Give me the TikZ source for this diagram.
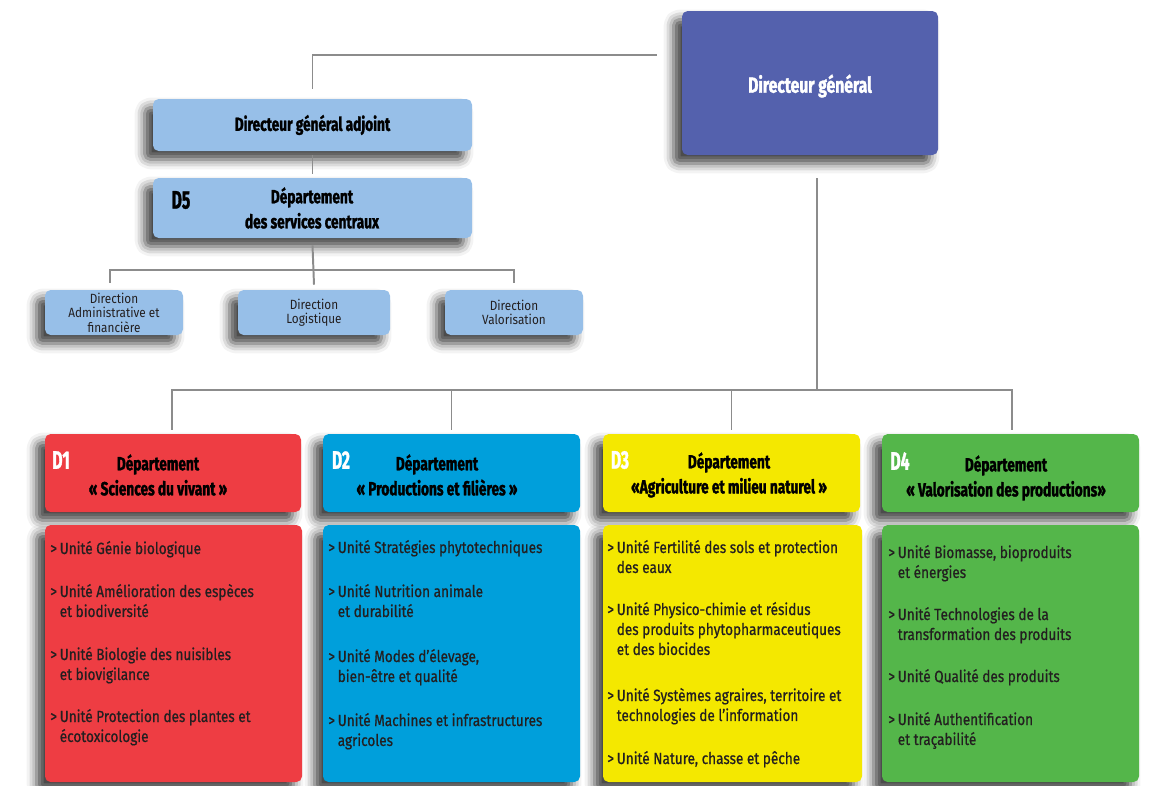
\documentclass[tikz,border=0pt]{standalone}
\usepackage{fontspec}
\setmainfont{Fira Sans}
\newfontfamily\headfont[FakeStretch=0.72,FakeBold=1.6]{Fira Sans}
\newfontfamily\labelfont[FakeStretch=0.62,FakeBold=1.2]{Fira Sans}
\newfontfamily\unitfont[FakeStretch=0.84,FakeBold=0.7]{Fira Sans}
\newfontfamily\dirfont[FakeStretch=0.88]{Fira Sans}
\usetikzlibrary{positioning,calc,shadows.blur}
\definecolor{dgblue}{HTML}{5461AD}
\definecolor{lightblue}{HTML}{97BFE8}
\definecolor{dred}{HTML}{EE3D43}
\definecolor{dblue}{HTML}{009FDB}
\definecolor{dyellow}{HTML}{F4E800}
\definecolor{dgreen}{HTML}{54B64A}
\definecolor{linegrey}{HTML}{8C8C8C}
\definecolor{inktext}{HTML}{231F20}
\def\pxu{0.025cm}
\newcommand{\uitem}[1]{\begin{tabular}[t]{@{}l@{\,}l@{}}>&#1\end{tabular}}
\tikzset{
  box/.style={rectangle,rounded corners=4pt,inner sep=0pt,
    blur shadow={shadow xshift=-6pt,shadow yshift=-6pt,shadow blur radius=7pt,shadow opacity=75}},
  headtxt/.style={font=\headfont\bfseries\fontsize{13.5}{17.8}\selectfont,align=center,text=black},
  dlabel/.style={font=\labelfont\bfseries\fontsize{18}{18}\selectfont,text=white},
  dirtxt/.style={font=\dirfont\fontsize{9.5}{10.3}\selectfont,align=center,text=inktext},
  unit/.style={font=\unitfont\fontsize{11.5}{14.2}\selectfont,anchor=base west,inner sep=0pt,text=inktext},
  link/.style={draw=linegrey,line width=1.4pt},
}
\begin{document}
\begin{tikzpicture}[x=\pxu,y=-\pxu]
  \useasboundingbox (0,0) rectangle (1168,785);
  % direction
  \node[box,fill=dgblue,minimum width=256*\pxu,minimum height=144*\pxu] (dg) at (810,83) {};
  \node[headtxt,text=white,font=\headfont\bfseries\fontsize{15.5}{18}\selectfont] at (810,86) {Directeur général};
  \node[box,fill=lightblue,minimum width=319*\pxu,minimum height=52*\pxu] (dga) at (312.5,125) {};
  \node[headtxt] at (dga.center) {Directeur général adjoint};
  \node[box,fill=lightblue,minimum width=319*\pxu,minimum height=60*\pxu] (d5) at (312.5,208) {};
  \node[headtxt] at (312,208) {Département\\des services centraux};
  \node[dlabel,text=black] at (181,200) {D5};
  % directions of D5
  \node[box,fill=lightblue,minimum width=138*\pxu,minimum height=45*\pxu] (dadm) at (114,312.5) {};
  \node[dirtxt] at (dadm.center) {Direction\\Administrative et\\financière};
  \node[box,fill=lightblue,minimum width=152*\pxu,minimum height=45*\pxu] (dlog) at (314,312.5) {};
  \node[dirtxt] at (dlog.center) {Direction\\Logistique};
  \node[box,fill=lightblue,minimum width=138*\pxu,minimum height=45*\pxu] (dval) at (514,312.5) {};
  \node[dirtxt] at (dval.center) {Direction\\Valorisation};
  % department headers
  \node[box,fill=dred,minimum width=256*\pxu,minimum height=78*\pxu] (h1) at (173,473) {};
  \node[box,fill=dblue,minimum width=257*\pxu,minimum height=78*\pxu] (h2) at (451.5,473) {};
  \node[box,fill=dyellow,minimum width=257*\pxu,minimum height=78*\pxu] (h3) at (731.5,473) {};
  \node[box,fill=dgreen,minimum width=257*\pxu,minimum height=78*\pxu] (h4) at (1010.5,473) {};
  \node[headtxt] at (158,475) {Département\\« Sciences du vivant »};
  \node[headtxt] at (437,475) {Département\\« Productions et filières »};
  \node[headtxt] at (729,475) {Département\\«Agriculture et milieu naturel »};
  \node[headtxt] at (1006,478) {Département\\« Valorisation des productions»};
  \node[dlabel] at (61,460) {D1};
  \node[dlabel] at (341,460) {D2};
  \node[dlabel] at (620,460) {D3};
  \node[dlabel] at (900,461) {D4};
  % unit boxes
  \node[box,fill=dred,minimum width=257*\pxu,minimum height=257*\pxu] (u1) at (173.5,653.5) {};
  \node[box,fill=dblue,minimum width=257*\pxu,minimum height=257*\pxu] (u2) at (451.5,653.5) {};
  \node[box,fill=dyellow,minimum width=259*\pxu,minimum height=257*\pxu] (u3) at (732.5,653.5) {};
  \node[box,fill=dgreen,minimum width=257*\pxu,minimum height=257*\pxu] (u4) at (1010.5,653.5) {};
  % units D1
  \node[unit] at (50,554) {\uitem{Unité Génie biologique}};
  \node[unit] at (50,597) {\uitem{Unité Amélioration des espèces\\&et biodiversité}};
  \node[unit] at (50,660) {\uitem{Unité Biologie des nuisibles\\&et biovigilance}};
  \node[unit] at (50,722) {\uitem{Unité Protection des plantes et\\&écotoxicologie}};
  % units D2
  \node[unit] at (328,553) {\uitem{Unité Stratégies phytotechniques}};
  \node[unit] at (328,597) {\uitem{Unité Nutrition animale\\&et durabilité}};
  \node[unit] at (328,662) {\uitem{Unité Modes d’élevage,\\&bien-être et qualité}};
  \node[unit] at (328,726) {\uitem{Unité Machines et infrastructures\\&agricoles}};
  % units D3
  \node[unit] at (607,553) {\uitem{Unité Fertilité des sols et protection\\&des eaux}};
  \node[unit] at (607,615) {\uitem{Unité Physico-chimie et résidus\\&des produits phytopharmaceutiques\\&et des biocides}};
  \node[unit] at (607,701) {\uitem{Unité Systèmes agraires, territoire et\\&technologies de l’information}};
  \node[unit] at (607,764) {\uitem{Unité Nature, chasse et pêche}};
  % units D4
  \node[unit] at (888,558) {\uitem{Unité Biomasse, bioproduits\\&et énergies}};
  \node[unit] at (888,620) {\uitem{Unité Technologies de la\\&transformation des produits}};
  \node[unit] at (888,682) {\uitem{Unité Qualité des produits}};
  \node[unit] at (888,725) {\uitem{Unité Authentification\\&et traçabilité}};
  % connectors
  \draw[link] ([xshift=-25*\pxu,yshift=28*\pxu]dg.west) -| ([yshift=10*\pxu]dga.north);
  \draw[link] ([yshift=-4*\pxu]dga.south) -- ([yshift=4*\pxu]d5.north);
  \coordinate (dbar) at (313,270);
  \draw[link] ([yshift=-7*\pxu]d5.south) -- ([yshift=5*\pxu]dlog.north);
  \draw[link] ([xshift=-4*\pxu,yshift=7*\pxu]dadm.north) |- (dbar) -| ([yshift=7*\pxu]dval.north);
  \coordinate (hbar) at (817,390);
  \draw[link] ([xshift=7*\pxu,yshift=-23*\pxu]dg.south) -- (hbar);
  \draw[link] ([xshift=-1*\pxu,yshift=4*\pxu]h1.north) |- (hbar) -| ([xshift=1.5*\pxu,yshift=4*\pxu]h4.north);
  \draw[link] ([yshift=4*\pxu]h2.north) -- (h2.north |- hbar);
  \draw[link] ([yshift=4*\pxu]h3.north) -- (h3.north |- hbar);
\end{tikzpicture}
\end{document}
